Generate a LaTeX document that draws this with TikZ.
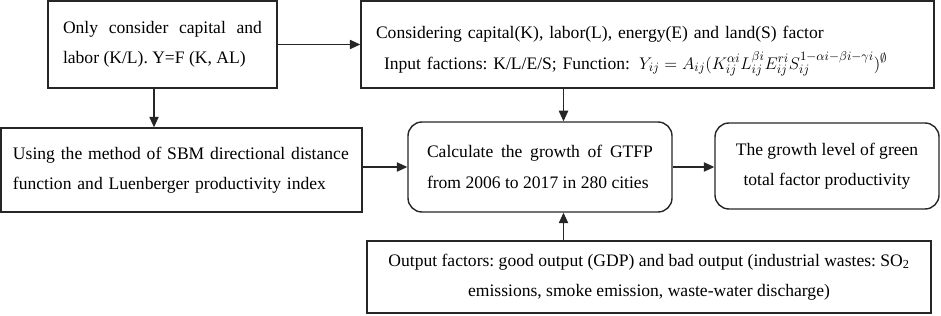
\documentclass[tikz,border=0pt]{standalone}
\usepackage{fontspec}
\setmainfont{Liberation Serif}
\usetikzlibrary{arrows.meta, positioning, calc}
\definecolor{cline}{HTML}{262626}
\frenchspacing
\hyphenpenalty=10000
\exhyphenpenalty=10000
\tikzset{
  every picture/.style={line width=1pt},
  box/.style={draw=cline, line width=1.2pt, inner xsep=0.45cm, inner ysep=0pt, font=\fontsize{15pt}{26pt}\selectfont},
  rbox/.style={box, rounded corners=0.42cm},
  arrow/.style={-{Triangle[length=9pt, width=8pt]}, draw=cline, line width=1pt},
}

\begin{document}
\begin{tikzpicture}
  \useasboundingbox (0,0) rectangle (28.23,-9.48);

  \node[box, minimum width=6.87cm, minimum height=2.61cm, text width=5.97cm, align=justify] (cap) at (4.875,-1.335) {Only consider capital and labor (K/L). Y=F (K, AL)};

  \node[box, minimum width=17.19cm, minimum height=2.61cm, text width=16.29cm, align=left] (facs) at (19.425,-1.335) {\rule{0pt}{22pt}Considering capital(K), labor(L), energy(E) and land(S) factor\\ \hspace*{0.24cm}Input factions: K/L/E/S; Function:\ \hspace{0.1cm}\mbox{\fontsize{15.8pt}{26pt}\selectfont$Y_{ij}=A_{ij}(K_{ij}^{\alpha i}L_{ij}^{\beta i}E_{ij}^{ri}S_{ij}^{1-\alpha i-\beta i-\gamma i})^{\emptyset}$}};

  \node[box, minimum width=10.83cm, minimum height=2.52cm, inner xsep=0.36cm, text width=10.11cm, align=left] (sbm) at (5.445,-5.1) {Using the method of SBM directional distance\\ function and Luenberger productivity index};

  \node[rbox, minimum width=7.92cm, minimum height=2.7cm, text width=6.78cm, inner xsep=0.57cm, align=justify] (gtfp) at (16.2,-5.01) {Calculate the growth of GTFP from 2006 to 2017 in 280 cities};

  \node[rbox, minimum width=6.72cm, minimum height=2.58cm, align=center] (level) at (24.81,-4.98) {The growth level of green\\ total factor productivity};

  \node[box, minimum width=16.92cm, minimum height=2.16cm, align=center] (outp) at (19.47,-8.31) {Output factors: good output (GDP) and bad output (industrial wastes: SO\textsubscript{2}\\ emissions, smoke emission, waste-water discharge)};

  \coordinate (drop) at ([xshift=-0.255cm]cap.south);
  \coordinate (mid) at ([xshift=0.705cm]gtfp.center);

  \draw[arrow] (cap.east) -- (cap.east -| facs.west);
  \draw[arrow] (drop) -- (drop |- sbm.north);
  \draw[arrow] (mid |- facs.south) -- (mid |- gtfp.north);
  \draw[arrow] (gtfp.west -| sbm.east) -- (gtfp.west);
  \draw[arrow] (gtfp.east) -- (gtfp.east -| level.west);
  \draw[arrow] (mid |- outp.north) -- (mid |- gtfp.south);
\end{tikzpicture}
\end{document}
